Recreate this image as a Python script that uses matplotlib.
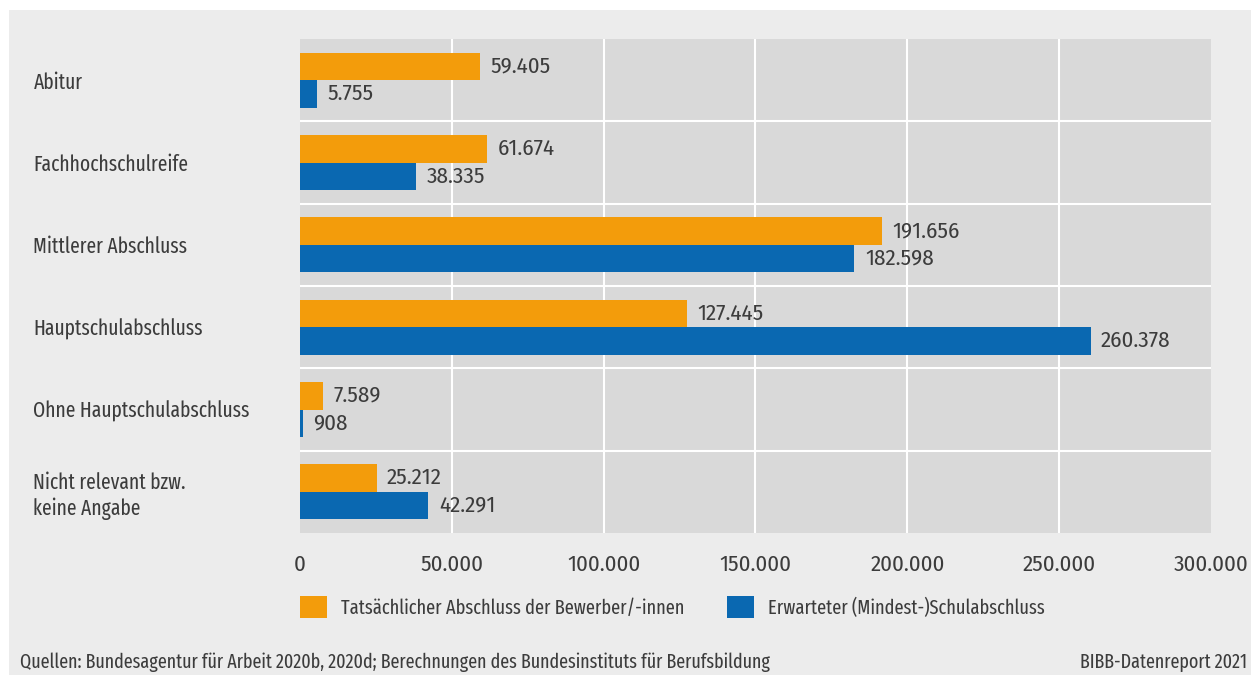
#Bewerber/-innen: tatsaechlicher vs. erwarteter Schulabschluss
#Output is saved as out.png

import matplotlib
matplotlib.use("Agg")
import matplotlib.pyplot as plt
import numpy as np

plt.rcParams["font.family"] = ["Fira Sans Extra Condensed", "DejaVu Sans"]
NUM_FONT = ["Fira Sans Condensed", "DejaVu Sans"]

categories = [
    "Abitur",
    "Fachhochschulreife",
    "Mittlerer Abschluss",
    "Hauptschulabschluss",
    "Ohne Hauptschulabschluss",
    "Nicht relevant bzw.\nkeine Angabe",
]
tatsaechlich = [59405, 61674, 191656, 127445, 7589, 25212]
erwartet = [5755, 38335, 182598, 260378, 908, 42291]
series_labels = [
    "Tatsächlicher Abschluss der Bewerber/-innen",
    "Erwarteter (Mindest-)Schulabschluss",
]
x_ticks = [0, 50000, 100000, 150000, 200000, 250000, 300000]

ORANGE = "#f39c0b"
BLUE = "#0a68b1"
TEXT = "#3c3c3c"


def de_format(v):
    return f"{v:,.0f}".replace(",", ".")


fig = plt.figure(figsize=(12.51, 6.75), dpi=100)
fig.patch.set_facecolor("white")
#gray panel behind everything
panel = plt.Rectangle((9 / 1251, 0), 1 - 9 / 1251, 1 - 10 / 675,
                      transform=fig.transFigure, facecolor="#ececec",
                      edgecolor="none", zorder=-10)
fig.add_artist(panel)

ax = fig.add_axes([300 / 1251, 1 - 533 / 675, 911 / 1251, 494 / 675])
ax.set_facecolor("#d9d9d9")

y = np.arange(len(categories))
h = 0.335
b1 = ax.barh(y - h / 2, tatsaechlich, height=h, color=ORANGE, label=series_labels[0], zorder=3)
b2 = ax.barh(y + h / 2, erwartet, height=h, color=BLUE, label=series_labels[1], zorder=3)

for bars, vals in ((b1, tatsaechlich), (b2, erwartet)):
    for bar, v in zip(bars, vals):
        ax.annotate(de_format(v), (bar.get_width(), bar.get_y() + bar.get_height() / 2),
                    xytext=(7.5, 0), textcoords="offset points", va="center", ha="left",
                    fontsize=16.5, family=NUM_FONT, color=TEXT, zorder=4)

ax.set_xlim(0, 300000)
ax.set_ylim(len(categories) - 0.5, -0.5)

#white grid: vertical at ticks, horizontal between categories
ax.set_xticks(x_ticks)
ax.set_xticklabels([de_format(t) for t in x_ticks], family=NUM_FONT, fontsize=16.5)
for t in x_ticks[1:-1]:
    ax.axvline(t, color="white", lw=1.5, zorder=1)
for s in y[:-1] + 0.5:
    ax.axhline(s, color="white", lw=1.5, zorder=2)

ax.set_yticks(y)
ax.set_yticklabels(categories, ha="left", fontsize=15.25)
ax.tick_params(axis="y", length=0, pad=192, labelcolor=TEXT)
ax.tick_params(axis="x", length=0, pad=15, labelcolor=TEXT)
for sp in ax.spines.values():
    sp.set_visible(False)

fig.legend(handles=[b1, b2], labels=series_labels, loc="center left",
           bbox_to_anchor=(300 / 1251, 1 - 607 / 675), ncol=2, frameon=False,
           fontsize=14.4, labelcolor=TEXT, handlelength=1.35, handleheight=1.35,
           handletextpad=0.7, columnspacing=2.15, borderpad=0, borderaxespad=0)

fig.text(20 / 1251, 1 - 662 / 675,
         "Quellen: Bundesagentur für Arbeit 2020b, 2020d; Berechnungen des Bundesinstituts für Berufsbildung",
         ha="left", va="center", fontsize=14.1, color=TEXT)
fig.text(1247 / 1251, 1 - 662 / 675, "BIBB-Datenreport 2021",
         ha="right", va="center", fontsize=14.1, color=TEXT)

fig.savefig("out.png", dpi=100, facecolor=fig.get_facecolor())
plt.close(fig)
print("Saved: out.png")
